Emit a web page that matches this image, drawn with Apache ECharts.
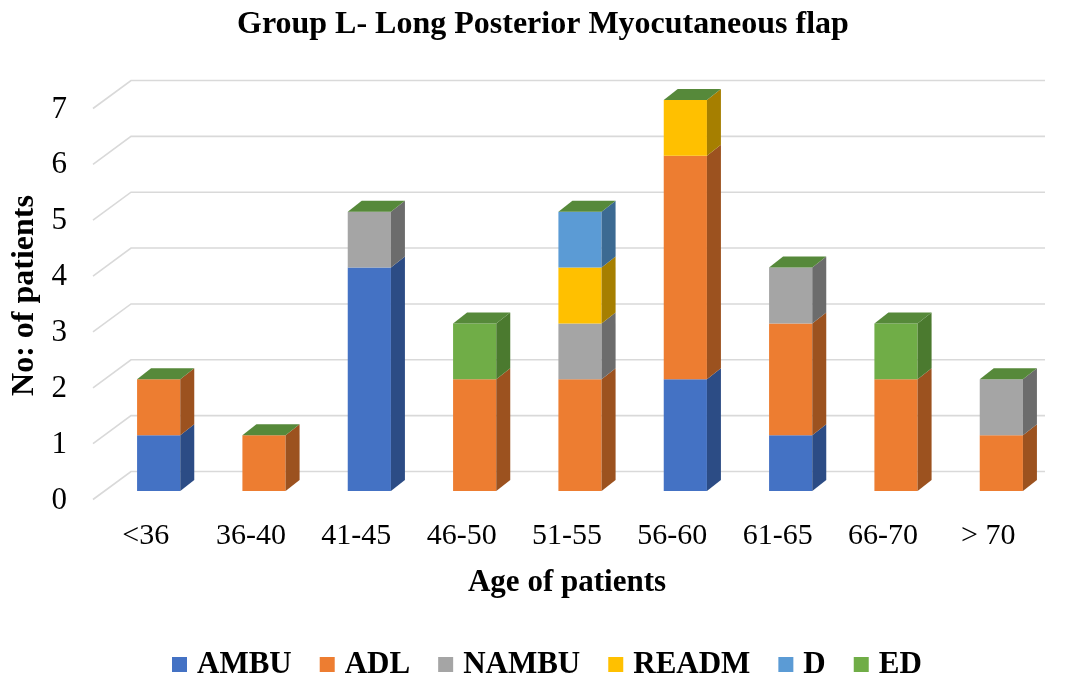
<!DOCTYPE html>
<html>
<head>
<meta charset="utf-8">
<script src="https://cdn.jsdelivr.net/npm/echarts@6/dist/echarts.min.js"></script>
<style>
  html, body { margin: 0; padding: 0; background: #fff; }
  #chart { width: 1070px; height: 677px; }
</style>
</head>
<body>
<div id="chart"></div>
<script>
// Age groups and patient counts per outcome
const categories = ['<36', '36-40', '41-45', '46-50', '51-55', '56-60', '61-65', '66-70', '> 70'];
const AMBU  = [1, 0, 4, 0, 0, 2, 1, 0, 0];
const ADL   = [1, 1, 0, 2, 2, 4, 2, 2, 1];
const NAMBU = [0, 0, 1, 0, 1, 0, 1, 0, 1];
const READM = [0, 0, 0, 0, 1, 1, 0, 0, 0];
const D     = [0, 0, 0, 0, 1, 0, 0, 0, 0];
const ED    = [0, 0, 0, 1, 0, 0, 0, 1, 0];
const yTicks = [0, 1, 2, 3, 4, 5, 6, 7];

const seriesDefs = [
  { name: 'AMBU',  values: AMBU,  front: '#4472C4', side: '#2C4C85' },
  { name: 'ADL',   values: ADL,   front: '#ED7D31', side: '#9C521F' },
  { name: 'NAMBU', values: NAMBU, front: '#A5A5A5', side: '#6C6C6C' },
  { name: 'READM', values: READM, front: '#FFC000', side: '#A67F00' },
  { name: 'D',     values: D,     front: '#5B9BD5', side: '#3C6A92' },
  { name: 'ED',    values: ED,    front: '#70AD47', side: '#4B7A2F' }
];
const TOP_COLOR = '#56893A';
const DEPTH_X = 14, DEPTH_Y = 11;
const FONT = '"Liberation Serif", "Times New Roman", serif';

// running stack bases per category
const bases = categories.map(() => 0);

function barRenderer(def, drawTop) {
  return function (params, api) {
    const cat = api.value(0), val = api.value(1), base = api.value(2);
    const w = api.size([1, 0])[0] * 0.41;
    const p0 = api.coord([cat, base]);
    const p1 = api.coord([cat, base + val]);
    const x = p0[0] - w / 2;
    const children = [];
    if (val > 0) {
      children.push({
        type: 'rect',
        shape: { x: x, y: p1[1], width: w, height: p0[1] - p1[1] },
        style: { fill: def.front }
      });
      children.push({
        type: 'polygon',
        shape: { points: [[x + w, p0[1]], [x + w, p1[1]], [x + w + DEPTH_X, p1[1] - DEPTH_Y], [x + w + DEPTH_X, p0[1] - DEPTH_Y]] },
        style: { fill: def.side }
      });
    }
    if (drawTop) {
      children.push({
        type: 'polygon',
        shape: { points: [[x, p1[1]], [x + DEPTH_X, p1[1] - DEPTH_Y], [x + w + DEPTH_X, p1[1] - DEPTH_Y], [x + w, p1[1]]] },
        style: { fill: TOP_COLOR }
      });
    }
    return { type: 'group', children: children };
  };
}

const barSeries = seriesDefs.map((def, si) => {
  const data = def.values.map((v, i) => {
    const item = [i, v, bases[i]];
    bases[i] += v;
    return item;
  });
  return {
    name: def.name,
    type: 'custom',
    coordinateSystem: 'cartesian2d',
    itemStyle: { color: def.front },
    encode: { x: 0, y: 1 },
    z: 3,
    renderItem: barRenderer(def, si === seriesDefs.length - 1),
    data: data
  };
});

// receding floor/wall gridlines
const gridSeries = {
  name: 'grid',
  type: 'custom',
  coordinateSystem: 'cartesian2d',
  silent: true,
  z: 1,
  encode: { y: 0 },
  renderItem: function (params, api) {
    const v = api.value(0);
    const y = api.coord([0, v])[1];
    const L = params.coordSys.x, R = params.coordSys.x + params.coordSys.width;
    return {
      type: 'polyline',
      shape: { points: [[L - 13, y + 8.5], [L + 25, y - 19.5], [R - 9, y - 19.5]] },
      style: { stroke: '#D9D9D9', lineWidth: 1.6, fill: null }
    };
  },
  data: yTicks.map(v => [v])
};

const chart = echarts.init(document.getElementById('chart'));
chart.setOption({
  animation: false,
  backgroundColor: '#fff',
  title: {
    text: 'Group L- Long Posterior Myocutaneous flap',
    left: 232,
    top: 4,
    textStyle: { fontFamily: FONT, fontWeight: 'bold', fontSize: 32, color: '#000' }
  },
  legend: {
    data: seriesDefs.map(d => d.name),
    top: 644,
    left: 167,
    icon: 'rect',
    itemWidth: 15,
    itemHeight: 15,
    itemGap: 28,
    textStyle: { fontFamily: FONT, fontWeight: 'bold', fontSize: 31, color: '#000', padding: [0, 0, 0, 5] }
  },
  grid: { left: 106, right: 16, top: 100, bottom: 186 },
  xAxis: {
    type: 'category',
    data: categories,
    axisLine: { show: false },
    axisTick: { show: false },
    axisLabel: { margin: 30, fontFamily: FONT, fontSize: 30, color: '#000', padding: [0, 26, 0, 0] },
    name: 'Age of patients',
    nameLocation: 'middle',
    nameGap: 76,
    nameTextStyle: { fontFamily: FONT, fontWeight: 'bold', fontSize: 31, color: '#000', padding: [0, 26, 0, 0] }
  },
  yAxis: {
    type: 'value',
    min: 0,
    max: 7,
    interval: 1,
    splitLine: { show: false },
    axisLine: { show: false },
    axisTick: { show: false },
    axisLabel: { margin: 39, fontFamily: FONT, fontSize: 31, color: '#000', verticalAlign: 'top', lineHeight: 19 },
    name: 'No: of patients',
    nameLocation: 'middle',
    nameRotate: 90,
    nameGap: 57,
    nameTextStyle: { fontFamily: FONT, fontWeight: 'bold', fontSize: 32, color: '#000' }
  },
  series: [gridSeries].concat(barSeries)
});
</script>
</body>
</html>
